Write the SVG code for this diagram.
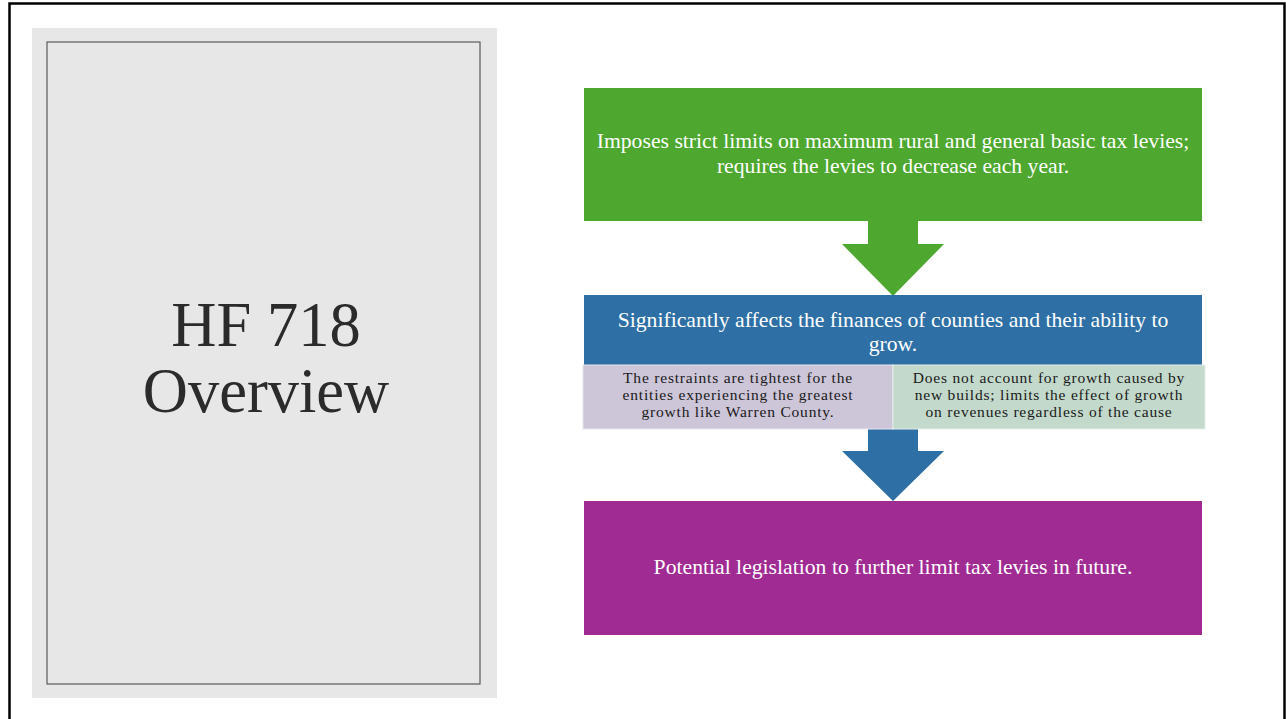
<svg xmlns="http://www.w3.org/2000/svg" width="1286" height="719" viewBox="0 0 1286 719">
<style>
.t{font-family:"Liberation Serif","Times New Roman",serif;text-anchor:middle}
.w{fill:#ffffff;font-size:21.7px}
.k{fill:#1a1a1a;font-size:15.5px;letter-spacing:0.8px}
.title{fill:#2b2b2b;font-size:62.5px}
</style>
<rect x="0" y="0" width="1286" height="719" fill="#ffffff"/>
<rect x="9.5" y="3.5" width="1275" height="720" fill="none" stroke="#000" stroke-width="2.5"/>
<g id="title-panel">
<rect x="32" y="28" width="465" height="670" fill="#e7e7e7"/>
<rect x="47" y="42" width="433" height="642" fill="none" stroke="#5a5a5a" stroke-width="1.2"/>
<text class="t title" x="266" y="346">HF 718</text>
<text class="t title" x="266" y="412">Overview</text>
</g>
<g id="connectors">
<polygon id="arrow-green" points="868,221 918,221 918,244 944,244 893,296 842,244 868,244" fill="#4ea72e"/>
<polygon id="arrow-blue" points="868,429 918,429 918,451 944,451 893,501 842,451 868,451" fill="#2e70a5"/>
</g>
<g id="node-limits">
<rect x="584" y="88" width="618" height="133" fill="#4ea72e"/>
<text class="t w" x="893" y="148">Imposes strict limits on maximum rural and general basic tax levies;</text>
<text class="t w" x="893" y="173">requires the levies to decrease each year.</text>
</g>
<g id="node-finances">
<rect x="584" y="295" width="618" height="70" fill="#2e70a5"/>
<text class="t w" x="893" y="327">Significantly affects the finances of  counties and their ability to</text>
<text class="t w" x="893" y="351">grow.</text>
</g>
<g id="node-restraints">
<rect x="583" y="365" width="310" height="64" fill="#cdc5d8" stroke="#e9e6ee" stroke-width="1"/>
<text class="t k" x="738" y="383">The restraints are tightest for the</text>
<text class="t k" x="738" y="400">entities experiencing the greatest</text>
<text class="t k" x="738" y="417">growth like Warren County.</text>
</g>
<g id="node-growth">
<rect x="893" y="365" width="312" height="64" fill="#c3d9cb" stroke="#e6eee9" stroke-width="1"/>
<text class="t k" x="1049" y="383">Does not account for growth caused by</text>
<text class="t k" x="1049" y="400">new builds; limits the effect of growth</text>
<text class="t k" x="1049" y="417">on revenues regardless of  the cause</text>
</g>
<g id="node-future">
<rect x="584" y="501" width="618" height="134" fill="#a02b93"/>
<text class="t w" x="893" y="574">Potential legislation to further limit tax levies in future.</text>
</g>
</svg>
